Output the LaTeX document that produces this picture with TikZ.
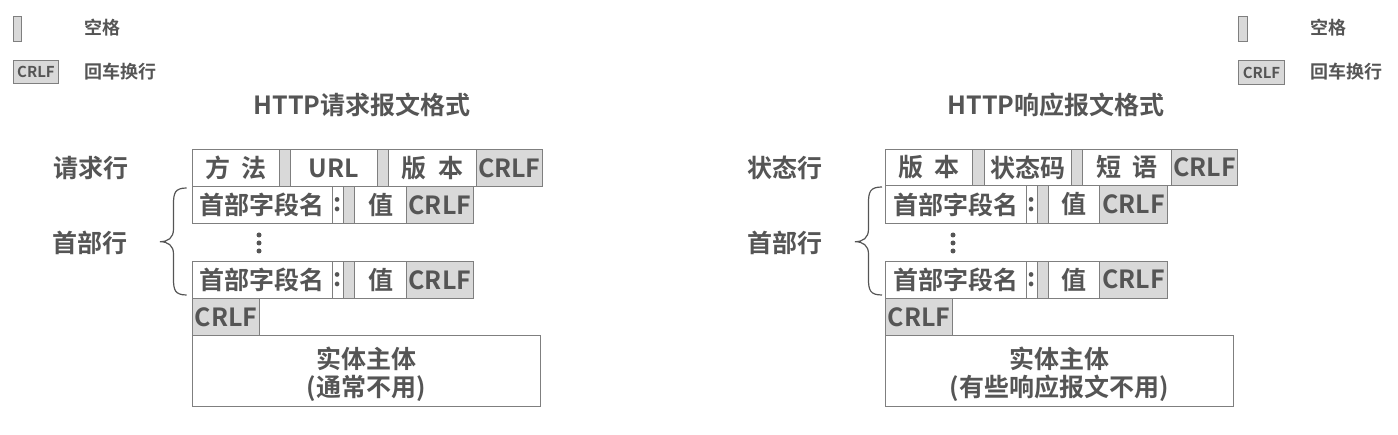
\documentclass[tikz,border=0pt]{standalone}
\usepackage{fontspec}
\setmainfont{Noto Sans CJK SC}[BoldFont={Noto Sans CJK SC Bold}]
\definecolor{txt}{HTML}{555555}
\definecolor{edge}{HTML}{7F7F7F}
\definecolor{shade}{HTML}{D9D9D9}
\tikzset{
  cell/.style={draw=edge, line width=1pt, fill=white, inner sep=0pt, anchor=north west,
    text=txt, font=\bfseries\fontsize{25}{28}\selectfont},
  gcell/.style={cell, fill=shade},
  lbl/.style={text=txt, inner sep=0pt, font=\bfseries\fontsize{25}{28}\selectfont},
  legend/.style={text=txt, inner sep=0pt, font=\bfseries\fontsize{18}{20}\selectfont},
  bracepath/.style={draw=txt, line width=1.2pt},
  dotmark/.style={circle, fill=txt, inner sep=0pt, minimum size=5pt}
}
\begin{document}
\begin{tikzpicture}[x=1pt,y=-1pt]
\useasboundingbox (0,0) rectangle (1398,435);
% ---------- legends ----------
\node[gcell, minimum width=8.3pt, minimum height=25pt] (lsp) at (12.7,15.7) {};
\node[legend, anchor=west] (lsptxt) at (84,28) {空格};
\node[gcell, minimum width=45pt, minimum height=23pt, font=\bfseries\fontsize{15}{16}\selectfont] (lcr) at (13,60) {CRLF};
\node[legend, anchor=west] (lcrtxt) at (84,72) {回车换行};
\node[gcell, minimum width=8.7pt, minimum height=25pt] (rsp) at (1238,15.7) {};
\node[legend, anchor=west] (rsptxt) at (1310,28) {空格};
\node[gcell, minimum width=46pt, minimum height=24pt, font=\bfseries\fontsize{15}{16}\selectfont] (rcr) at (1238,60) {CRLF};
\node[legend, anchor=west] (rcrtxt) at (1310,72) {回车换行};
% ---------- titles ----------
\node[lbl] (t1) at (362,105) {HTTP请求报文格式};
\node[lbl] (t2) at (1056,105) {HTTP响应报文格式};
% ---------- left: request ----------
\node[lbl] (reqline) at (91,168) {请求行};
\node[lbl] (hdr1) at (90,243) {首部行};
\node[cell, minimum width=87pt, minimum height=36.2pt] (m) at (192,149.5) {方\hspace{0.45em}法};
\node[gcell, minimum width=11pt, minimum height=36.2pt] (s1) at (279,149.5) {};
\node[cell, minimum width=87pt, minimum height=36.2pt] (url) at (290,149.5) {URL};
\node[gcell, minimum width=11pt, minimum height=36.2pt] (s2) at (377,149.5) {};
\node[cell, minimum width=88pt, minimum height=36.2pt] (ver) at (388,149.5) {版\hspace{0.45em}本};
\node[gcell, minimum width=65.7pt, minimum height=36.2pt] (c1) at (476,149.5) {CRLF};
% header row 1
\node[cell, minimum width=139.7pt, minimum height=37.6pt] (h1n) at (192,185.7) {首部字段名};
\node[cell, minimum width=11.6pt, minimum height=37.6pt] (h1c) at (331.7,185.7) {:};
\node[gcell, minimum width=10.7pt, minimum height=37.6pt] (h1s) at (343.3,185.7) {};
\node[cell, minimum width=52pt, minimum height=37.6pt] (h1v) at (354,185.7) {值};
\node[gcell, minimum width=66.7pt, minimum height=37.6pt] (h1r) at (406,185.7) {CRLF};
% dots
\node[dotmark] (d1a) at (259,235) {};
\node[dotmark] (d1b) at (259,243) {};
\node[dotmark] (d1c) at (259,251) {};
% header row 2
\node[cell, minimum width=139.7pt, minimum height=37.6pt] (h2n) at (192,260.7) {首部字段名};
\node[cell, minimum width=11.6pt, minimum height=37.6pt] (h2c) at (331.7,260.7) {:};
\node[gcell, minimum width=10.7pt, minimum height=37.6pt] (h2s) at (343.3,260.7) {};
\node[cell, minimum width=52pt, minimum height=37.6pt] (h2v) at (354,260.7) {值};
\node[gcell, minimum width=66.7pt, minimum height=37.6pt] (h2r) at (406,260.7) {CRLF};
% blank line
\node[gcell, minimum width=67pt, minimum height=36.7pt] (bl1) at (192,298.3) {CRLF};
% body
\node[cell, minimum width=348pt, minimum height=70.5pt] (body1) at (192,335.5) {};
\node[lbl, align=center] (body1txt) at (366,374) {实体主体\\(通常不用)};
% brace
\coordinate (b1t) at (186.7,188);
\coordinate (b1m) at (160,241.7);
\coordinate (b1b) at (186.7,295);
\draw[bracepath] (b1t) .. controls (175,188) and (173.5,193) .. (173.5,204) -- (173.5,229)
  .. controls (173.5,238) and (168,241.7) .. (b1m)
  .. controls (168,241.7) and (173.5,245.5) .. (173.5,254) -- (173.5,279)
  .. controls (173.5,290) and (175,295) .. (b1b);
% ---------- right: response ----------
\node[lbl] (stline) at (785,168) {状态行};
\node[lbl] (hdr2) at (785,243) {首部行};
\node[cell, minimum width=86.7pt, minimum height=36pt] (rv) at (885,149) {版\hspace{0.45em}本};
\node[gcell, minimum width=12.3pt, minimum height=36pt] (rs1) at (971.7,149) {};
\node[cell, minimum width=87pt, minimum height=36pt] (code) at (984,149) {状态码};
\node[gcell, minimum width=11pt, minimum height=36pt] (rs2) at (1071,149) {};
\node[cell, minimum width=89pt, minimum height=36pt] (phr) at (1082,149) {短\hspace{0.45em}语};
\node[gcell, minimum width=65.7pt, minimum height=36pt] (rc1) at (1171,149) {CRLF};
% header row 1
\node[cell, minimum width=140.7pt, minimum height=38pt] (g1n) at (885,185) {首部字段名};
\node[cell, minimum width=11pt, minimum height=38pt] (g1c) at (1025.7,185) {:};
\node[gcell, minimum width=11.6pt, minimum height=38pt] (g1s) at (1036.7,185) {};
\node[cell, minimum width=51pt, minimum height=38pt] (g1v) at (1048.3,185) {值};
\node[gcell, minimum width=67.4pt, minimum height=38pt] (g1r) at (1099.3,185) {CRLF};
% dots
\node[dotmark] (d2a) at (953,235) {};
\node[dotmark] (d2b) at (953,243) {};
\node[dotmark] (d2c) at (953,251) {};
% header row 2
\node[cell, minimum width=140.7pt, minimum height=37pt] (g2n) at (885,260.7) {首部字段名};
\node[cell, minimum width=11pt, minimum height=37pt] (g2c) at (1025.7,260.7) {:};
\node[gcell, minimum width=11.6pt, minimum height=37pt] (g2s) at (1036.7,260.7) {};
\node[cell, minimum width=51pt, minimum height=37pt] (g2v) at (1048.3,260.7) {值};
\node[gcell, minimum width=67.4pt, minimum height=37pt] (g2r) at (1099.3,260.7) {CRLF};
% blank line
\node[gcell, minimum width=67.3pt, minimum height=37.3pt] (bl2) at (885,297.7) {CRLF};
% body
\node[cell, minimum width=348.3pt, minimum height=70.2pt] (body2) at (885,335.5) {};
\node[lbl, align=center] (body2txt) at (1059,374) {实体主体\\(有些响应报文不用)};
% brace
\coordinate (b2t) at (882,187);
\coordinate (b2m) at (855,241.7);
\coordinate (b2b) at (882,295);
\draw[bracepath] (b2t) .. controls (870,187) and (868.5,192) .. (868.5,203) -- (868.5,229)
  .. controls (868.5,238) and (863,241.7) .. (b2m)
  .. controls (863,241.7) and (868.5,245.5) .. (868.5,254) -- (868.5,279)
  .. controls (868.5,290) and (870,295) .. (b2b);
\end{tikzpicture}
\end{document}
